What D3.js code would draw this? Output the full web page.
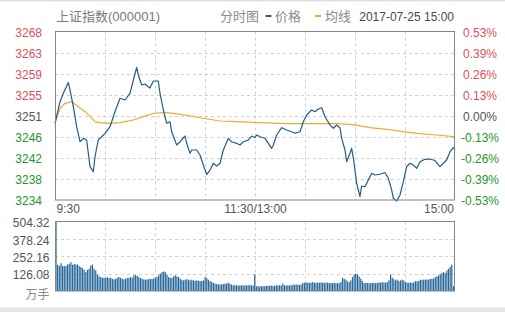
<!DOCTYPE html>
<html>
<head>
<meta charset="utf-8">
<script src="https://cdn.jsdelivr.net/npm/d3@7"></script>
<style>
  html, body { margin: 0; padding: 0; background: #fff; }
  svg { display: block; font-family: "Liberation Sans", Arial, "Noto Sans CJK SC", sans-serif; }
</style>
</head>
<body>
<svg id="chart" width="505" height="312"></svg>
<script>
// 上证指数 intraday (2017-07-25): previous close and axis ticks
const preClose = 3250.6;
const priceTicks = [3267.6, 3263.35, 3259.1, 3254.85, 3250.6, 3246.35, 3242.1, 3237.85, 3233.6];
const priceLabels = ["3268", "3263", "3259", "3255", "3251", "3246", "3242", "3238", "3234"];
const pctLabels = ["0.53%", "0.39%", "0.26%", "0.13%", "0.00%", "-0.13%", "-0.26%", "-0.39%", "-0.53%"];
const volumeTicks = [504.32, 378.24, 252.16, 126.08];
const volumeLabels = ["504.32", "378.24", "252.16", "126.08"];
const timeTicks = [0, 120, 240];
const timeLabels = ["9:30", "11:30/13:00", "15:00"];
const gridMinutes = [30, 60, 90, 120, 150, 180, 210];

// [minute index, price]
const priceSeries = [
  [0,3249.08],[3,3253.43],[5,3255.13],[8,3257.3],[9,3255.8],[11,3252.43],[13,3248.39],[15,3245.36],
  [17,3246.05],[19,3245.71],[20,3243.02],[21,3240.32],[23,3239.3],[24,3242.34],[26,3245.71],[28,3246.37],
  [30,3247.06],[33,3248.39],[36,3251.42],[39,3254.12],[42,3253.78],[45,3255.13],[47,3257.81],[49,3260.34],
  [50,3258.82],[52,3256.8],[54,3257.01],[57,3256.2],[59,3257.61],[62,3257.61],[63,3255.13],[65,3251.76],
  [67,3249.08],[69,3249.4],[70,3247.38],[73,3244.7],[75,3245.36],[78,3246.51],[79,3245.04],[81,3243.02],
  [82,3243.69],[85,3243.69],[87,3242.68],[89,3240.66],[91,3238.75],[93,3239.65],[95,3241.01],[97,3240.46],
  [99,3241.01],[101,3243.69],[104,3246.05],[106,3245.36],[109,3245.04],[111,3244.7],[113,3245.36],[116,3245.71],
  [118,3246.51],[120,3246.21],[121,3246.72],[123,3246.37],[126,3246.05],[128,3245.04],[130,3244.03],[131,3244.7],
  [133,3246.72],[136,3248.19],[139,3247.72],[142,3247.38],[144,3247.06],[147,3247.38],[149,3249.4],[151,3250.75],
  [154,3251.76],[156,3251.42],[158,3251.96],[160,3252.22],[162,3250.41],[165,3248.73],[167,3248.07],[169,3248.73],
  [171,3248.13],[172,3246.05],[174,3243.69],[175,3241.33],[177,3243.02],[178,3244.03],[179,3242.07],[181,3236.97],
  [183,3234.31],[184,3236.42],[186,3236.28],[188,3237.64],[190,3238.99],[192,3238.64],[195,3238.79],[198,3239.15],
  [200,3237.98],[202,3235.62],[203,3233.94],[205,3233.4],[207,3234.61],[209,3237.29],[211,3240.32],[213,3241.01],
  [215,3240.66],[217,3240.0],[219,3241.33],[222,3241.81],[225,3241.87],[228,3241.57],[231,3240.32],[233,3241.01],
  [235,3241.67],[237,3243.35],[239,3244.15],[240,3243.69]
];

// [minute index, average price]
const avgSeries = [
  [0,3249.08],[3,3252.1],[6,3253.11],[10,3253.43],[14,3252.43],[18,3251.42],[21,3250.41],[24,3249.4],
  [27,3249.2],[33,3249.08],[39,3249.2],[47,3249.74],[53,3250.41],[59,3251.05],[65,3251.3],[71,3251.09],
  [79,3250.69],[89,3250.09],[99,3249.54],[109,3249.4],[119,3249.28],[139,3249.0],[159,3249.0],[169,3249.0],
  [179,3248.79],[189,3248.19],[199,3247.87],[209,3247.38],[219,3246.98],[229,3246.72],[239,3246.37],[240,3246.37]
];

// volume per minute (万手), 9:30 .. 15:00
const volumes = [
  504.32,
  190,180,202,182,180, 182,192,197,209,190, 197,192,192,180,173, 166,154,137,154,161,
  185,192,161,149,120, 106,101,96,96,94, 101,94,96,89,84, 89,96,101,96,89,
  84,89,96,94,101, 96,113,115,110,101, 94,89,84,82,84, 86,89,86,91,96,
  101,113,125,137,142, 137,120,101,94,96, 106,113,106,101,89, 82,77,82,86,82,
  77,82,77,74,77, 74,72,72,77,101, 94,82,72,65,58, 53,50,48,48,48,
  50,53,53,60,53, 46,41,43,41,40, 41,42,41,40,41, 41,43,41,40,
  120,
  34,35,33,34,36,34, 38,37,38,39,38,37, 41,40,42,41, 53, 41,40,42,41,41,
  46,45,47,46,45,46, 58,60,61,60,59,60, 65, 60,59,61,60,62,60,59,61,60,
  58,57,59,58,56,58,57, 65,94,89,82,70,65,77,101,120,125,120,106,89,72,
  58,57,58,56,57,58,59,57,58, 62,61,63,62,61,
  65,77,120,96,86,77,82,72,77,82,77,65,
  60,59,61,60,62, 72,71,73, 82,81,83,82,84,82, 89,88,90,
  101,106,113,120,130,137,130,149,161,175,190,34
];

const svg = d3.select("#chart");
const X0 = 55, X1 = 455;
const P0 = 31.5, P1 = 200;
const V0 = 221.5, V1 = 291;

const colorUp = "#e0505a", colorDown = "#27952e", colorFlat = "#555555";
const gridColor = "#cfcfcf", boxColor = "#848484";
const priceColor = "#235e8a", avgColor = "#eeac32", barColor = "#24679c";

const x = d3.scaleLinear().domain([0, 240]).range([X0, X1]);
const xBar = d3.scaleLinear().domain([0, 240]).range([X0 + 1, X1 - 1.5]);
const yP = d3.scaleLinear().domain([3233.6, 3267.6]).range([P1, P0]);
const yV = d3.scaleLinear().domain([0, 504.32]).range([V1, V0]);

// page edges
svg.append("rect").attr("x", 0).attr("y", 0).attr("width", 505).attr("height", 1.5).attr("fill", "#e2e2e2");
svg.append("rect").attr("x", 0).attr("y", 307.5).attr("width", 505).attr("height", 4.5).attr("fill", "#e4e4e4");

// header
const head = svg.append("g").attr("font-size", 13);
head.append("text").attr("x", 56).attr("y", 21).attr("fill", "#7a7a7a").text("上证指数(000001)");
head.append("text").attr("x", 220).attr("y", 21).attr("fill", "#8a8a8a").text("分时图");
head.append("rect").attr("x", 265.5).attr("y", 15).attr("width", 6).attr("height", 2).attr("fill", priceColor);
head.append("text").attr("x", 275).attr("y", 21).attr("fill", "#8a8a8a").text("价格");
head.append("rect").attr("x", 315).attr("y", 15).attr("width", 6).attr("height", 2).attr("fill", avgColor);
head.append("text").attr("x", 325).attr("y", 21).attr("fill", "#8a8a8a").text("均线");
head.append("text").attr("x", 454).attr("y", 21).attr("text-anchor", "end").attr("font-size", 12)
  .attr("fill", "#4a4a4a").text("2017-07-25 15:00");

// grid lines
function hGrid(values, scale) {
  svg.append("g").selectAll("line").data(values).join("line")
    .attr("x1", X0).attr("x2", X1)
    .attr("y1", d => Math.round(scale(d)) + 0.5).attr("y2", d => Math.round(scale(d)) + 0.5)
    .attr("stroke", gridColor).attr("stroke-dasharray", "3,3");
}
function vGrid(top, bottom) {
  svg.append("g").selectAll("line").data(gridMinutes).join("line")
    .attr("x1", d => Math.round(x(d)) + 0.5).attr("x2", d => Math.round(x(d)) + 0.5)
    .attr("y1", top).attr("y2", bottom)
    .attr("stroke", gridColor).attr("stroke-dasharray", "3,3");
}
hGrid(priceTicks.slice(1, -1), yP);
vGrid(P0, P1);
hGrid(volumeTicks.slice(1), yV);
vGrid(V0, V1);

// price axes (left: index level, right: change %)
const tickColor = d => d > preClose + 0.01 ? colorUp : (d < preClose - 0.01 ? colorDown : colorFlat);
const leftAxis = svg.append("g").attr("transform", `translate(42,1)`)
  .call(d3.axisLeft(yP).tickValues(priceTicks).tickSize(0).tickPadding(0)
    .tickFormat((d, i) => priceLabels[i]));
leftAxis.selectAll("text").attr("fill", d => tickColor(d)).attr("font-size", 12).attr("font-family", null);
const rightAxis = svg.append("g").attr("transform", `translate(480,1)`)
  .call(d3.axisRight(yP).tickValues(priceTicks).tickSize(0).tickPadding(0)
    .tickFormat((d, i) => pctLabels[i]));
rightAxis.selectAll("text").attr("fill", d => tickColor(d)).attr("text-anchor", "middle")
  .attr("font-size", 12).attr("font-family", null);

// time axis
const timeAxis = svg.append("g").attr("transform", `translate(0,${P1})`)
  .call(d3.axisBottom(x).tickValues(timeTicks).tickSize(0).tickPadding(4)
    .tickFormat((d, i) => timeLabels[i]));
timeAxis.selectAll("text").attr("fill", "#555").attr("font-size", 12).attr("font-family", null)
  .attr("text-anchor", (d, i) => ["start", "middle", "end"][i])
  .attr("dx", (d, i) => [1, 0, -1.5][i]);

// volume axis
const volAxis = svg.append("g").attr("transform", `translate(49.5,1.5)`)
  .call(d3.axisLeft(yV).tickValues(volumeTicks).tickSize(0).tickPadding(0)
    .tickFormat((d, i) => volumeLabels[i]));
volAxis.selectAll("text").attr("fill", "#555").attr("font-size", 12).attr("font-family", null);
svg.append("text").attr("x", 49.5).attr("y", 298.5).attr("text-anchor", "end")
  .attr("font-size", 12).attr("fill", "#8a8a8a").text("万手");
[leftAxis, rightAxis, timeAxis, volAxis].forEach(a => a.select(".domain").remove());

// volume bars
svg.append("g").selectAll("rect").data(volumes).join("rect")
  .attr("x", (d, i) => xBar(i) - 0.6)
  .attr("y", d => yV(d))
  .attr("width", 1.2)
  .attr("height", d => V1 - yV(d))
  .attr("fill", barColor);

// average and price lines
const line = d3.line().x(d => x(d[0])).y(d => yP(d[1]));
svg.append("path").datum(avgSeries).attr("d", line)
  .attr("fill", "none").attr("stroke", avgColor).attr("stroke-width", 1.2);
svg.append("path").datum(priceSeries).attr("d", line)
  .attr("fill", "none").attr("stroke", priceColor).attr("stroke-width", 1.2).attr("stroke-linejoin", "round");

// panel frames
svg.append("rect").attr("x", X0 + 0.5).attr("y", P0).attr("width", X1 - X0 - 1).attr("height", P1 - P0)
  .attr("fill", "none").attr("stroke", boxColor);
svg.append("rect").attr("x", X0 + 0.5).attr("y", V0).attr("width", X1 - X0 - 1).attr("height", V1 - V0)
  .attr("fill", "none").attr("stroke", boxColor);
</script>
</body>
</html>
